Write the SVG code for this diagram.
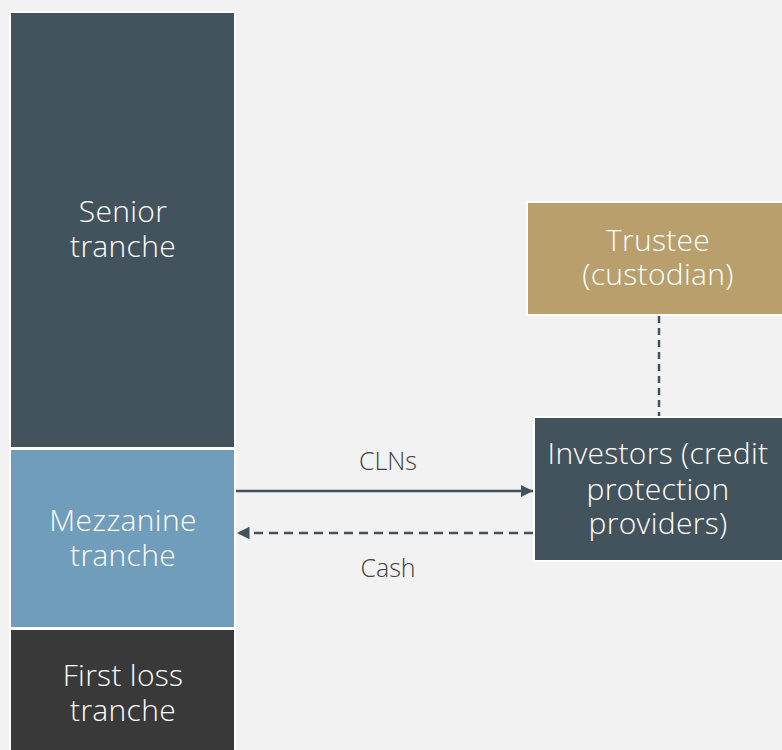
<svg xmlns="http://www.w3.org/2000/svg" width="782" height="750" viewBox="0 0 782 750">
<defs>
<style>
.box{stroke:#ffffff;stroke-width:2}
.lbl{font-family:"Open Sans","Liberation Sans",sans-serif;font-weight:300;font-size:30px;letter-spacing:0.3px;fill:#ffffff;text-anchor:middle;dominant-baseline:central}
.edge{font-family:"Open Sans","Liberation Sans",sans-serif;font-weight:300;font-size:25px;fill:#404040;text-anchor:middle;dominant-baseline:central}
.ln{stroke:#43535d;stroke-width:2.5;fill:none}
</style>
<marker id="ah" viewBox="0 0 10 10" refX="10" refY="5" markerWidth="5" markerHeight="5" orient="auto-start-reverse" markerUnits="strokeWidth">
<path d="M0,0 L10,5 L0,10 z" fill="#43535d"/>
</marker>
</defs>
<rect width="782" height="750" fill="#f2f2f2"/>
<g id="senior">
<rect class="box" x="10" y="12" width="225" height="436" fill="#43535d"/>
<text class="lbl" x="123" y="210">Senior</text>
<text class="lbl" x="123" y="245">tranche</text>
</g>
<g id="mezzanine">
<rect class="box" x="10" y="449" width="225" height="179" fill="#6f9dbb"/>
<text class="lbl" x="123" y="519">Mezzanine</text>
<text class="lbl" x="123" y="554">tranche</text>
</g>
<g id="firstloss">
<rect class="box" x="10" y="629" width="225" height="130" fill="#393939"/>
<text class="lbl" x="123" y="674">First loss</text>
<text class="lbl" x="123" y="709">tranche</text>
</g>
<g id="trustee">
<rect class="box" x="527" y="202" width="265" height="113" fill="#b89f6c"/>
<text class="lbl" x="658" y="239">Trustee</text>
<text class="lbl" x="658" y="273">(custodian)</text>
</g>
<g id="investors">
<rect class="box" x="534" y="417" width="258" height="144" fill="#43535d"/>
<text class="lbl" x="658" y="452">Investors (credit</text>
<text class="lbl" x="658" y="488">protection</text>
<text class="lbl" x="658" y="522">providers)</text>
</g>
<g id="connectors">
<line class="ln" x1="236" y1="491" x2="533" y2="491" marker-end="url(#ah)"/>
<line class="ln" x1="533" y1="533" x2="237" y2="533" stroke-dasharray="9,6" marker-end="url(#ah)"/>
<line class="ln" x1="659" y1="316" x2="659" y2="416" stroke-width="2" stroke-dasharray="7,5"/>
<text class="edge" x="388" y="460">CLNs</text>
<text class="edge" x="388" y="567">Cash</text>
</g>
</svg>
